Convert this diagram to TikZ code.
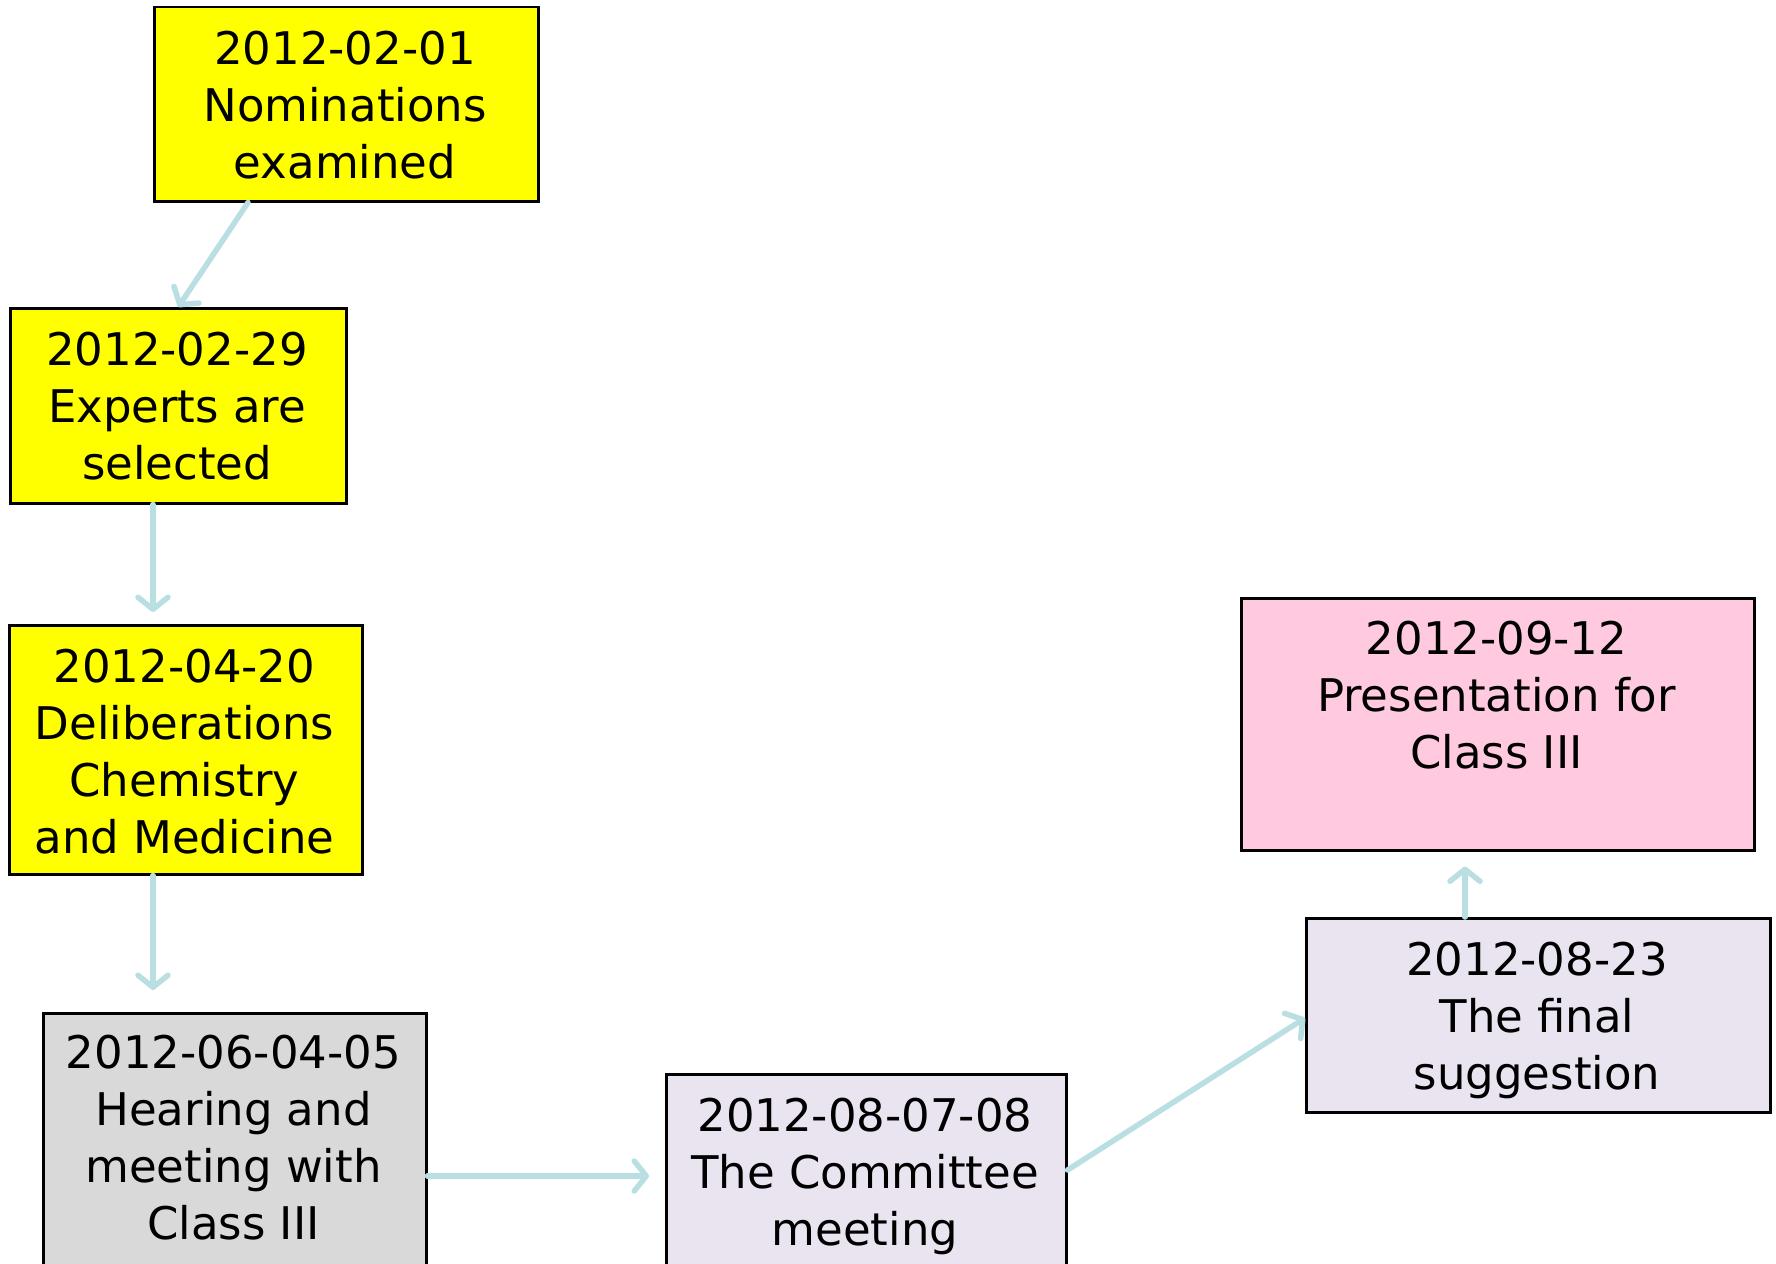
\documentclass[tikz,border=0pt]{standalone}
\usepackage{fontspec}
\setmainfont{DejaVu Sans}
\usetikzlibrary{arrows.meta}
\definecolor{ylw}{HTML}{FFFF00}
\definecolor{gry}{HTML}{D9D9D9}
\definecolor{lav}{HTML}{E9E4F0}
\definecolor{pnk}{HTML}{FFCADF}
\definecolor{arr}{HTML}{B9DFE3}
\begin{document}
\begin{tikzpicture}[x=1pt,y=-1pt,
  box/.style={draw=black, line width=2.5pt, anchor=north west, inner sep=0pt},
  txt/.style={align=center, font=\fontsize{45}{57}\selectfont, inner sep=0pt},
  conn/.style={draw=arr, line width=5.5pt, line cap=round,
    -{Straight Barb[length=12pt,width=30pt,round]}}]
\clip (0,0) rectangle (1776,1263);
\fill[white] (0,0) rectangle (1776,1263);
% boxes
\node[box, fill=ylw, minimum width=384pt, minimum height=194pt] (b1) at (153,6) {};
\node[box, fill=ylw, minimum width=336pt, minimum height=195pt] (b2) at (9,307) {};
\node[box, fill=ylw, minimum width=353pt, minimum height=249pt] (b3) at (8,624) {};
\node[box, fill=gry, minimum width=383pt, minimum height=300pt] (b4) at (42,1012) {};
\node[box, fill=lav, minimum width=400pt, minimum height=240pt] (b5) at (665,1073) {};
\node[box, fill=lav, minimum width=464pt, minimum height=194pt] (b6) at (1305,917) {};
\node[box, fill=pnk, minimum width=513pt, minimum height=252pt] (b7) at (1240,597) {};
% texts
\node[txt] (t1) at (345,105) {2012-02-01\\Nominations\\examined};
\node[txt] (t2) at (177,406) {2012-02-29\\Experts are\\selected};
\node[txt] (t3) at (184.5,752) {2012-04-20\\Deliberations\\Chemistry\\and Medicine};
\node[txt] (t4) at (233.5,1138) {2012-06-04-05\\Hearing and\\meeting with\\Class III};
\node[txt] (t5) at (865,1176) {2012-08-07-08\\The Committee\\meeting};
\node[txt] (t6) at (1537,1020) {2012-08-23\\The final\\suggestion};
\node[txt] (t7) at (1496.5,695) {2012-09-12\\Presentation for\\Class III};
% connectors
\draw[conn] ([xshift=95pt]b1.south west) -- (b2.north);
\draw[conn, shorten >=12pt] ([xshift=144pt]b2.south west) -- ([xshift=145pt]b3.north west);
\draw[conn, shorten >=22pt] ([xshift=145pt]b3.south west) -- ([xshift=111pt]b4.north west);
\draw[conn, shorten >=16pt] ([yshift=-164pt]b4.north east) -- ([yshift=-103pt]b5.north west);
\draw[conn] ([yshift=-97pt]b5.north east) -- ([yshift=-101pt]b6.north west);
\draw[conn, shorten >=15pt] ([xshift=160pt]b6.north west) -- ([xshift=225pt]b7.south west);
\end{tikzpicture}
\end{document}
